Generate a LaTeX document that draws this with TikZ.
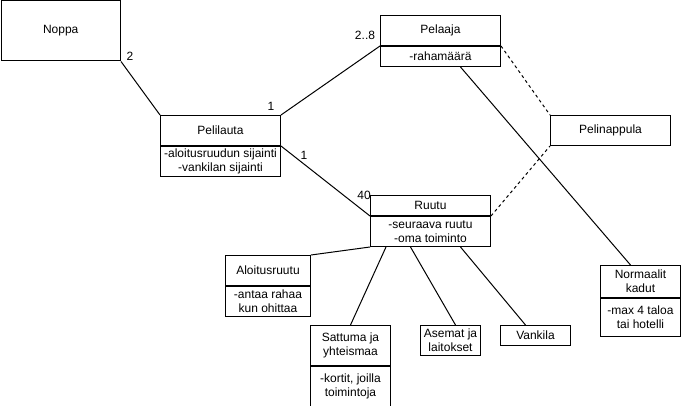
\documentclass[tikz,border=0pt]{standalone}
\usepackage{fontspec}
\setmainfont{Liberation Sans}
\usetikzlibrary{positioning}
\begin{document}
\begin{tikzpicture}[x=1pt,y=-1pt,font=\fontsize{12}{14}\selectfont,line width=1pt]
\tikzstyle{cls}=[draw,fill=white,anchor=north west,align=center,inner sep=0pt]
\tikzstyle{attr}=[draw,fill=white,align=center,inner sep=0pt]
\tikzstyle{mult}=[inner sep=0pt]
\tikzstyle{dep}=[dash pattern=on 3pt off 3pt]
\useasboundingbox (0,0) rectangle (681,406);
\node[cls,minimum width=119.5pt,minimum height=60pt] (noppa) at (0.5,0.5) {Noppa};
\node[cls,minimum width=120pt,minimum height=30pt] (pelilautaH) at (160,115) {Pelilauta};
\node[attr,minimum width=120pt,minimum height=30pt,below=0pt of pelilautaH] (pelilautaB)
{-aloitusruudun sijainti\\-vankilan sijainti};
\node[cls,minimum width=120pt,minimum height=30pt] (pelaajaH) at (380,15) {Pelaaja};
\node[attr,minimum width=120pt,minimum height=20pt,below=0pt of pelaajaH] (pelaajaB) {-rahamäärä};
\node[cls,minimum width=120pt,minimum height=30pt] (pelinappula) at (550,115) {Pelinappula};
\node[cls,minimum width=120pt,minimum height=20pt] (ruutuH) at (370,195) {Ruutu};
\node[attr,minimum width=120pt,minimum height=30pt,below=0pt of ruutuH] (ruutuB)
{-seuraava ruutu\\-oma toiminto};
\node[cls,minimum width=85pt,minimum height=30pt] (aloitusH) at (225,255) {Aloitusruutu};
\node[attr,minimum width=85pt,minimum height=30pt,below=0pt of aloitusH] (aloitusB)
{-antaa rahaa\\kun ohittaa};
\node[cls,minimum width=80pt,minimum height=40pt] (sattumaH) at (310,325) {Sattuma ja\\yhteismaa};
\node[attr,minimum width=80pt,minimum height=40pt,below=0pt of sattumaH] (sattumaB)
{-kortit, joilla\\toimintoja};
\node[cls,minimum width=60pt,minimum height=30pt] (asemat) at (420,325) {Asemat ja\\laitokset};
\node[cls,minimum width=70pt,minimum height=20pt] (vankila) at (500,325) {Vankila};
\node[cls,minimum width=80pt,minimum height=32pt] (normaaliH) at (600,265) {Normaalit\\kadut};
\node[attr,minimum width=80pt,minimum height=38pt,below=0pt of normaaliH] (normaaliB)
{-max 4 taloa\\tai hotelli};
\draw (noppa.south east) -- (pelilautaH.north west);
\draw (pelilautaH.north east) -- (pelaajaB.north west);
\draw (pelilautaB.north east) -- (ruutuB.north west);
\draw ([xshift=20pt]pelaajaB.south) -- ([xshift=-10pt]normaaliH.north);
\draw[dep] (pelaajaH.south east) -- (pelinappula.north west);
\draw[dep] (ruutuB.north east) -- (pelinappula.south west);
\draw (ruutuB.south west) -- (aloitusH.north east);
\draw ([xshift=16pt]ruutuB.south west) -- (sattumaH.north);
\draw ([xshift=-20pt]ruutuB.south) -- ([xshift=5pt]asemat.north);
\draw ([xshift=30pt]ruutuB.south) -- ([xshift=-10pt]vankila.north);
\node[mult] (m1) at (130,56) {2};
\node[mult] (m2) at (271,106) {1};
\node[mult] (m3) at (365,35) {2..8};
\node[mult] (m4) at (304,155) {1};
\node[mult] (m5) at (364,195) {40};
\end{tikzpicture}
\end{document}
